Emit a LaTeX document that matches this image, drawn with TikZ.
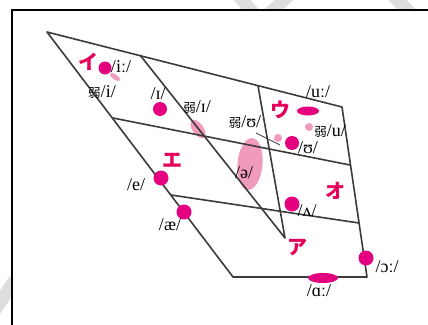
\documentclass[tikz,border=0pt]{standalone}
\usepackage{fontspec}
\setmainfont{Liberation Serif}
\newfontfamily\cjk{Noto Sans CJK JP}
\usetikzlibrary{shapes.geometric}
\definecolor{vowel-magenta}{HTML}{E4007F}
\definecolor{vowel-pink}{HTML}{F09BBE}
\definecolor{kana-red}{HTML}{E5005A}
\definecolor{chart-gray}{HTML}{3E3A39}
\newcommand\jaku{{\cjk\fontsize{12.5}{12.5}\selectfont 弱}}

\begin{document}
\begin{tikzpicture}[
  x=1pt, y=-1pt,
  chart/.style={draw=chart-gray, line width=1.6pt, line join=round},
  dot/.style={circle, fill=vowel-magenta, inner sep=0pt, minimum size=14pt},
  weakdot/.style={circle, fill=vowel-pink, inner sep=0pt, minimum size=8pt},
  blob/.style={ellipse, inner sep=0pt},
  kana/.style={font=\cjk\bfseries\fontsize{20}{20}\selectfont, text=kana-red, inner sep=0pt},
  ipa/.style={font=\fontsize{18}{18}\selectfont, inner sep=0pt},
  mark line/.style={draw=black!13, line width=13pt},
]
  \clip (0,0) rectangle (428,324);
  \useasboundingbox (0,0) rectangle (428,324);

  \draw[mark line] (225,-20) -- (255,15);
  \draw[mark line] (305,-20) -- (268,15);
  \draw[mark line] (378,-20) -- (412,15);
  \draw[mark line] (-5,310) -- (15,280);
  \draw[fill=white, line width=1.2pt] (12,10) rectangle (450,350);

  \coordinate (A) at (47,32);
  \coordinate (B) at (342,107);
  \coordinate (C) at (367,277);
  \coordinate (D) at (233,277);
  \coordinate (P1) at (140,55);
  \coordinate (P2) at (258,86);
  \coordinate (Q) at (285,238);
  \coordinate (L1a) at (113,118);
  \coordinate (L1b) at (350,165);
  \coordinate (L2a) at (171,195);
  \coordinate (L2b) at (359,223);
  \coordinate (wUtip) at (256,133);
  \coordinate (wUend) at (280,145);

  \node[blob, fill=vowel-pink, minimum width=12pt, minimum height=5pt, rotate=-35] (iW) at (115,77) {};
  \node[blob, fill=vowel-pink, minimum width=21pt, minimum height=11pt, rotate=-55] (IW) at (198,129) {};
  \node[blob, fill=vowel-pink, minimum width=25pt, minimum height=52pt, rotate=-5] (schwa) at (250,164) {};
  \node[weakdot] (uW) at (309,127) {};
  \node[weakdot] (UW) at (278,138) {};

  \draw[chart] (A) -- (B) -- (C) -- (D) -- cycle;
  \draw[chart] (L1a) -- (L1b);
  \draw[chart] (L2a) -- (L2b);
  \draw[chart] (P1) -- (Q) -- (P2);
  \draw[chart-gray, line width=0.7pt] (wUtip) -- (wUend);

  \node[dot, minimum size=13pt] (iL) at (105,68) {};
  \node[dot] (I) at (160,109) {};
  \node[blob, fill=vowel-magenta, minimum width=22pt, minimum height=9pt] (uL) at (308,111) {};
  \node[dot] (U) at (292,143) {};
  \node[dot, minimum size=15pt] (e) at (161,178) {};
  \node[dot, minimum size=15pt] (ae) at (184,212) {};
  \node[dot, minimum size=15pt] (V) at (292,204) {};
  \node[dot, minimum size=15pt] (oL) at (366,258) {};
  \node[blob, fill=vowel-magenta, minimum width=30pt, minimum height=10pt] (aL) at (323,278) {};

  \node[kana] (kI) at (88,62) {イ};
  \node[kana] (kU) at (280,110) {ウ};
  \node[kana] (kE) at (172,160) {エ};
  \node[kana] (kO) at (335,191) {オ};
  \node[kana] (kA) at (297,247) {ア};

  \node[ipa] (tiL) at (121,67) {/iː/};
  \node[ipa] (tiW) at (102,92) {\jaku/i/};
  \node[ipa] (tI) at (158,94) {/ɪ/};
  \node[ipa] (tIW) at (197,107) {\jaku/ɪ/};
  \node[ipa] (tUW) at (245,122) {\jaku/ʊ/};
  \node[ipa] (tuL) at (318,92) {/uː/};
  \node[ipa] (tuW) at (330,131) {\jaku/u/};
  \node[ipa] (tU) at (308,148) {/ʊ/};
  \node[ipa] (tschwa) at (244,173) {/ə/};
  \node[ipa] (te) at (136,185) {/e/};
  \node[ipa] (tae) at (170,225) {/æ/};
  \node[ipa] (tV) at (307,211) {/ʌ/};
  \node[ipa] (toL) at (387,267) {/ɔː/};
  \node[ipa] (taL) at (319,291) {/ɑː/};
\end{tikzpicture}
\end{document}
